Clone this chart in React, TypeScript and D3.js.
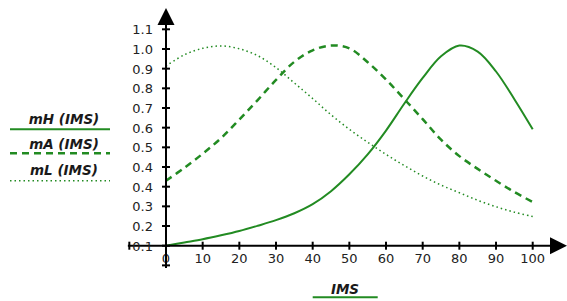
import React from 'react';
import * as d3 from 'd3';

const xValues = [0, 5, 10, 15, 20, 25, 30, 35, 40, 45, 50, 55, 60, 65, 70, 75, 80, 85, 90, 95, 100];
const mH = [0.1, 0.115, 0.13, 0.148, 0.168, 0.192, 0.218, 0.25, 0.292, 0.352, 0.43, 0.522, 0.632, 0.757, 0.875, 0.975, 1.025, 0.997, 0.905, 0.777, 0.638];
const mA = [0.4, 0.46, 0.525, 0.597, 0.683, 0.773, 0.866, 0.95, 1.003, 1.025, 1.012, 0.948, 0.868, 0.777, 0.685, 0.59, 0.514, 0.455, 0.4, 0.348, 0.302];
const mL = [0.93, 0.982, 1.012, 1.023, 1.01, 0.978, 0.923, 0.852, 0.78, 0.705, 0.638, 0.578, 0.522, 0.47, 0.422, 0.38, 0.345, 0.31, 0.28, 0.255, 0.235];

const xTicks = [0, 10, 20, 30, 40, 50, 60, 70, 80, 90, 100];
const yTickLabels = ['0.1', '0.2', '0.3', '0.4', '0.4', '0.5', '0.6', '0.7', '0.8', '0.9', '1.0', '1.1'];

const series = [
  { name: 'mH (IMS)', values: mH, dash: 'none', width: 2 },
  { name: 'mA (IMS)', values: mA, dash: '7,5', width: 2.5 },
  { name: 'mL (IMS)', values: mL, dash: '1.5,3', width: 1.5 },
];

const green = '#228b22';
const font = '"DejaVu Sans", Verdana, sans-serif';

const App: React.FC = () => {
  const width = 567;
  const height = 301;

  const x = d3.scaleLinear().domain([0, 100]).range([166, 532.7]);
  const y = d3.scaleLinear().domain([0.1, 1.1]).range([245.7, 29.3]);
  const yStep = 1 / 11;
  const yTicks = yTickLabels.map((_, i) => 0.1 + i * yStep);

  const line = d3
    .line<number>()
    .x((_, i) => x(xValues[i]))
    .y((d) => y(d))
    .curve(d3.curveCatmullRom.alpha(0.5));

  const x0 = x(0);
  const yBase = y(0.1);

  return (
    <svg width={width} height={height} style={{ position: 'absolute', left: 0, top: 0 }}>
      <rect width={width} height={height} fill="#fff" />

      {/* curves */}
      {series.map((s) => (
        <path
          key={s.name}
          d={line(s.values) || ''}
          fill="none"
          stroke={green}
          strokeWidth={s.width}
          strokeDasharray={s.dash}
        />
      ))}

      {/* x axis */}
      <line x1={x(-10.4)} x2={551} y1={yBase} y2={yBase} stroke="#000" strokeWidth={2} />
      <path d={`M567,${yBase} L550,${yBase - 8.5} L550,${yBase + 8.5} Z`} fill="#000" />
      {[-10, ...xTicks].map((t) => (
        <line key={'xt' + t} x1={x(t)} x2={x(t)} y1={yBase - 4} y2={yBase + 4} stroke="#000" strokeWidth={2} />
      ))}
      {xTicks.map((t) => (
        <text key={'xl' + t} x={x(t)} y={263} textAnchor="middle" fontFamily={font} fontSize={13} fill="#222">
          {t}
        </text>
      ))}

      {/* y axis */}
      <line x1={x0} x2={x0} y1={268} y2={24} stroke="#000" strokeWidth={2} />
      <path d={`M${x0},8 L${x0 - 8.5},25 L${x0 + 8.5},25 Z`} fill="#000" />
      {[0.1 - yStep, ...yTicks].map((t, i) => (
        <line key={'yt' + i} x1={x0 - 4} x2={x0 + 4} y1={y(t)} y2={y(t)} stroke="#000" strokeWidth={2} />
      ))}
      {yTicks.map((t, i) => (
        <text key={'yl' + i} x={153} y={y(t) + 5} textAnchor="end" fontFamily={font} fontSize={13} fill="#222">
          {yTickLabels[i]}
        </text>
      ))}

      {/* legend */}
      {series.map((s, i) => {
        const ty = [124, 149, 175][i];
        const ly = [129.3, 153.3, 180.7][i];
        return (
          <g key={'lg' + s.name}>
            <text x={64} y={ty} textAnchor="middle" fontFamily={font} fontSize={13.5} fontWeight="bold" fontStyle="italic" fill="#1a1a1a">
              {s.name}
            </text>
            <line x1={10} x2={110} y1={ly} y2={ly} stroke={green} strokeWidth={s.width} strokeDasharray={s.dash} />
          </g>
        );
      })}

      {/* x title */}
      <text x={345} y={294} textAnchor="middle" fontFamily={font} fontSize={13.5} fontWeight="bold" fontStyle="italic" fill="#1a1a1a">
        IMS
      </text>
      <line x1={312.7} x2={377.7} y1={297.3} y2={297.3} stroke={green} strokeWidth={2} />
    </svg>
  );
};

export default App;
